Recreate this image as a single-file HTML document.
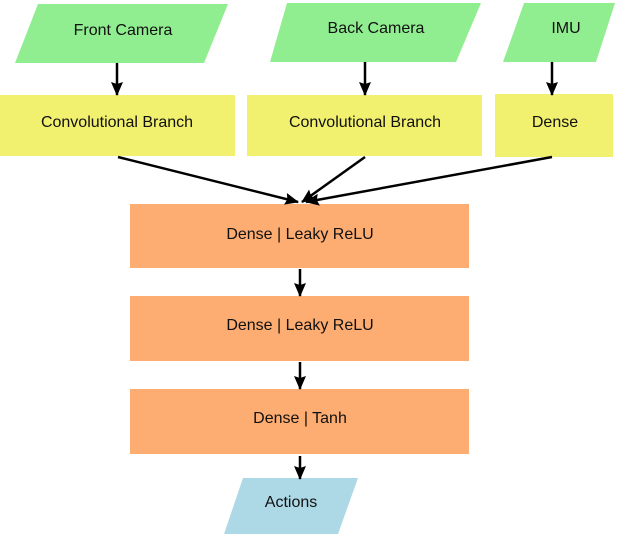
<!DOCTYPE html>
<html><head><style>body{margin:0;background:#fff}svg{display:block}</style></head><body>
<svg width="630" height="534" viewBox="0 0 630 534" xmlns="http://www.w3.org/2000/svg" font-family="Liberation Sans, sans-serif" font-size="16" fill="#111">
<defs><marker id="a" markerWidth="14" markerHeight="14" refX="13" refY="7" orient="auto" markerUnits="userSpaceOnUse" viewBox="0 0 14 14"><path d="M0,1 L14,7 L0,13 L2,7 Z" fill="#000"/></marker></defs>
<g fill="#90ee90">
<polygon points="38,4 228,4 204,63 15,63"/>
<polygon points="287,3 481,3 456,62 270,62"/>
<polygon points="524,3 615,3 596,62 503,62"/>
</g>
<g fill="#f1f06f">
<rect x="0" y="95" width="235" height="61"/>
<rect x="247" y="95" width="235" height="61"/>
<rect x="495" y="94" width="118" height="63"/>
</g>
<g fill="#fdac72">
<rect x="130" y="204" width="339" height="64"/>
<rect x="130" y="296" width="339" height="65"/>
<rect x="130" y="389" width="339" height="65"/>
</g>
<polygon points="243,478 358,478 338,534 224,534" fill="#add8e6"/>
<g stroke="#000" stroke-width="2.5" fill="none">
<line x1="117" y1="63" x2="117" y2="95" marker-end="url(#a)"/>
<line x1="365" y1="62" x2="365" y2="95" marker-end="url(#a)"/>
<line x1="552" y1="62" x2="552" y2="95" marker-end="url(#a)"/>
<line x1="118" y1="157" x2="298" y2="202" marker-end="url(#a)"/>
<line x1="365" y1="157" x2="302" y2="202" marker-end="url(#a)"/>
<line x1="552" y1="157" x2="306" y2="202" marker-end="url(#a)"/>
<line x1="300" y1="269" x2="300" y2="296" marker-end="url(#a)"/>
<line x1="300" y1="362" x2="300" y2="389" marker-end="url(#a)"/>
<line x1="300" y1="456" x2="300" y2="479" marker-end="url(#a)"/>
</g>
<g text-anchor="middle">
<text x="123" y="35">Front Camera</text>
<text x="376" y="33">Back Camera</text>
<text x="566" y="33">IMU</text>
<text x="117" y="127">Convolutional Branch</text>
<text x="365" y="127">Convolutional Branch</text>
<text x="555" y="127">Dense</text>
<text x="300" y="239">Dense | Leaky ReLU</text>
<text x="300" y="330">Dense | Leaky ReLU</text>
<text x="300" y="423">Dense | Tanh</text>
<text x="291" y="507">Actions</text>
</g>
</svg>
</body></html>
